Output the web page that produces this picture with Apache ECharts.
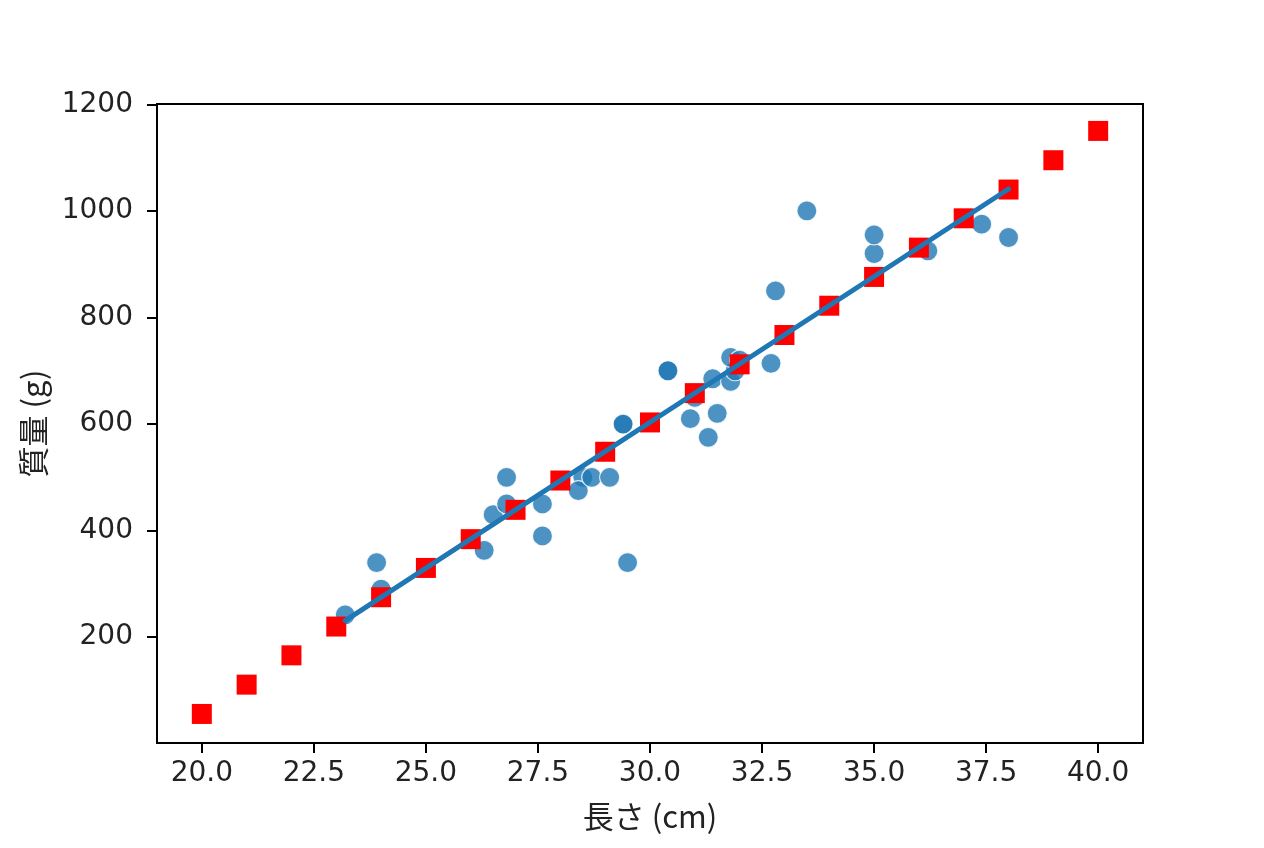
<!DOCTYPE html>
<html>
<head>
<meta charset="utf-8">
<title>長さと質量</title>
<script src="https://cdn.jsdelivr.net/npm/echarts@6/dist/echarts.min.js"></script>
<style>
    html, body { margin: 0; padding: 0; background: #fff; }
    #chart { width: 1264px; height: 848px; }
</style>
</head>
<body>
<div id="chart"></div>
<script>
// Measured fish (length cm, mass g)
const lengths = [23.2, 24.0, 23.9, 26.3, 26.5, 26.8, 26.8, 27.6, 27.6, 28.5, 28.4, 28.7, 29.1, 29.5, 29.4, 29.4, 30.4, 30.4, 30.9, 31.0,
    31.3, 31.4, 31.5, 31.8, 31.9, 31.8, 32.0, 32.7, 32.8, 33.5, 35.0, 35.0, 36.2, 37.4, 38.0];
const weights = [242, 290, 340, 363, 430, 450, 500, 390, 450, 500, 475, 500, 500, 340, 600, 600, 700, 700, 610, 650,
    575, 685, 620, 680, 700, 725, 720, 714, 850, 1000, 920, 955, 925, 975, 950];

// Predicted points (red squares)
const predLengths = [20, 21, 22, 23, 24, 25, 26, 27, 28, 29, 30, 31, 32, 33, 34, 35, 36, 37, 38, 39, 40];
const predWeights = [56, 111, 166, 220, 275, 330, 384, 439, 494, 548, 603, 658, 712, 767, 822, 876, 931, 986, 1040, 1095, 1150];

// Fitted line end points
const fitX = [23.2, 38.0];
const fitY = [231, 1041];

// Axis ticks
const xTicks = [20, 22.5, 25, 27.5, 30, 32.5, 35, 37.5, 40];
const yTicks = [200, 400, 600, 800, 1000, 1200];

const TICK_FONT = 'DejaVu Sans';
const CJK_FONT = '"Noto Sans CJK JP", "DejaVu Sans"';

function pairs(xs, ys) {
    return xs.map((x, i) => [x, ys[i]]);
}

const chart = echarts.init(document.getElementById('chart'), null, { renderer: 'canvas' });

const option = {
    animation: false,
    backgroundColor: '#fff',
    grid: {
        left: 157, right: 121, top: 104, bottom: 105,
        containLabel: false,
        outerBoundsMode: 'none',
        show: true,
        borderColor: '#000',
        borderWidth: 2,
        backgroundColor: 'transparent'
    },
    xAxis: {
        type: 'value',
        min: 19,
        max: 41,
        name: '長さ (cm)',
        nameLocation: 'middle',
        nameGap: 58,
        nameTextStyle: { fontFamily: CJK_FONT, fontSize: 31, color: '#222' },
        axisLine: { show: true, onZero: false, lineStyle: { color: '#000', width: 2 } },
        axisTick: { show: true, length: 10, lineStyle: { color: '#000', width: 2 }, customValues: xTicks },
        axisLabel: {
            customValues: xTicks,
            formatter: v => Number(v).toFixed(1),
            fontFamily: TICK_FONT, fontSize: 28, color: '#222', margin: 17
        },
        splitLine: { show: false }
    },
    yAxis: {
        type: 'value',
        min: 1.5,
        max: 1200.5,
        name: '質量 (g)',
        nameLocation: 'middle',
        nameRotate: 90,
        nameGap: 108,
        nameTextStyle: { fontFamily: CJK_FONT, fontSize: 31, color: '#222' },
        axisLine: { show: true, onZero: false, lineStyle: { color: '#000', width: 2 } },
        axisTick: { show: true, length: 10, lineStyle: { color: '#000', width: 2 }, customValues: yTicks },
        axisLabel: {
            customValues: yTicks,
            formatter: v => String(Math.round(v)),
            fontFamily: TICK_FONT, fontSize: 28, color: '#222', margin: 24
        },
        splitLine: { show: false }
    },
    series: [
        {
            type: 'scatter',
            data: pairs(lengths, weights),
            symbol: 'circle',
            symbolSize: 20,
            itemStyle: { color: '#1f77b4', opacity: 0.8, borderColor: '#fff', borderWidth: 1.2 }
        },
        {
            type: 'scatter',
            data: pairs(predLengths, predWeights),
            symbol: 'rect',
            symbolSize: 20,
            itemStyle: { color: '#ff0000', opacity: 1 }
        },
        {
            type: 'line',
            data: pairs(fitX, fitY),
            showSymbol: false,
            symbol: 'none',
            lineStyle: { color: '#1f77b4', width: 5, cap: 'round' }
        }
    ]
};

chart.setOption(option);
</script>
</body>
</html>
